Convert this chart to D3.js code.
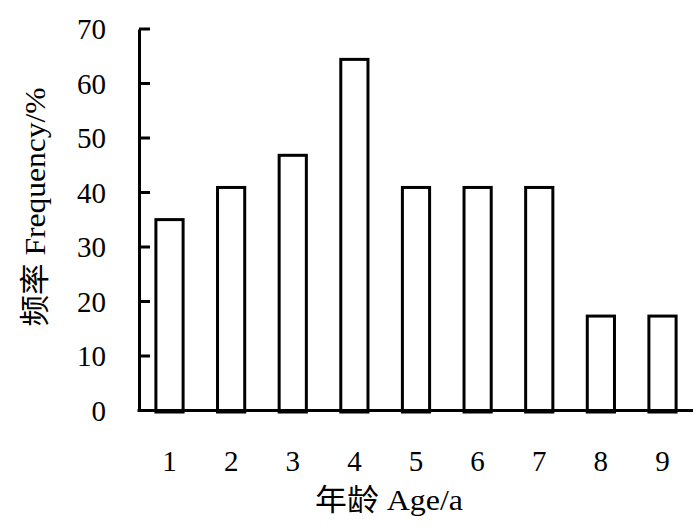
<!DOCTYPE html>
<html>
<head>
<meta charset="utf-8">
<script src="https://cdn.jsdelivr.net/npm/d3@7"></script>
<style>
  body { margin: 0; background: #ffffff; }
  text { font-family: "Liberation Serif", "Noto Sans CJK SC", serif; fill: #000; }
</style>
</head>
<body>
<div id="chart"></div>
<script>
// Data
const ages = ["1", "2", "3", "4", "5", "6", "7", "8", "9"];
const frequency = [35.3, 41.2, 47.1, 64.7, 41.2, 41.2, 41.2, 17.6, 17.6];
const yTicks = [0, 10, 20, 30, 40, 50, 60, 70];

const xTitle = "年龄 Age/a";
const yTitle = "频率 Frequency/%";

const svg_width = 700;
const svg_height = 532;
const margin = { top: 29, right: 7, bottom: 122, left: 139 };

const x = d3
  .scaleBand()
  .domain(ages)
  .range([margin.left, svg_width - margin.right])
  .paddingInner(0.51)
  .paddingOuter(0.25);

const y = d3
  .scaleLinear()
  .domain([0, 70])
  .range([svg_height - margin.bottom + 0.5, margin.top]);

const svg = d3
  .select("#chart")
  .append("svg")
  .attr("width", svg_width)
  .attr("height", svg_height);

// Bars
const stroke = 3;
svg
  .append("g")
  .selectAll("rect")
  .data(frequency)
  .enter()
  .append("rect")
  .attr("x", (d, i) => x(ages[i]) + stroke / 2)
  .attr("y", d => y(d) + stroke / 2)
  .attr("width", x.bandwidth() - stroke)
  .attr("height", d => y(0) - y(d))
  .attr("fill", "#fff")
  .attr("stroke", "#000")
  .attr("stroke-width", stroke);

// Y axis (labels from the axis, inward ticks drawn by hand below)
const yAxis = svg
  .append("g")
  .attr("transform", "translate(" + margin.left + ",0)")
  .call(
    d3.axisLeft(y)
      .tickValues(yTicks)
      .tickSize(0)
      .tickPadding(33)
      .tickFormat(d3.format("d"))
  );
yAxis.select(".domain").attr("stroke", "#000").attr("stroke-width", 3);
yAxis
  .selectAll(".tick text")
  .attr("font-size", 29)
  .attr("font-family", "Liberation Serif")
  .attr("dy", "0.34em");

svg
  .append("g")
  .selectAll("line")
  .data(yTicks)
  .enter()
  .append("line")
  .attr("x1", margin.left)
  .attr("x2", margin.left + 11)
  .attr("y1", d => y(d))
  .attr("y2", d => y(d))
  .style("stroke", "#000")
  .style("stroke-width", 3);

// X axis, no ticks
const xAxis = svg
  .append("g")
  .attr("transform", "translate(0," + y(0) + ")")
  .call(d3.axisBottom(x).tickSize(0).tickSizeOuter(0).tickPadding(40));
xAxis
  .select(".domain")
  .attr("d", "M" + (margin.left - 1.5) + ",0H" + (svg_width - margin.right))
  .attr("stroke", "#000")
  .attr("stroke-width", 3);
xAxis
  .selectAll(".tick text")
  .attr("font-size", 29)
  .attr("font-family", "Liberation Serif")
  .attr("dy", "0.71em");

// Axis titles
svg
  .append("text")
  .attr("x", 389)
  .attr("y", 510)
  .attr("text-anchor", "middle")
  .attr("font-size", 30)
  .attr("textLength", 148)
  .attr("lengthAdjust", "spacingAndGlyphs")
  .text(xTitle);

svg
  .append("text")
  .attr("transform", "translate(45,207) rotate(-90)")
  .attr("text-anchor", "middle")
  .attr("font-size", 30)
  .attr("textLength", 239)
  .attr("lengthAdjust", "spacingAndGlyphs")
  .text(yTitle);
</script>
</body>
</html>
